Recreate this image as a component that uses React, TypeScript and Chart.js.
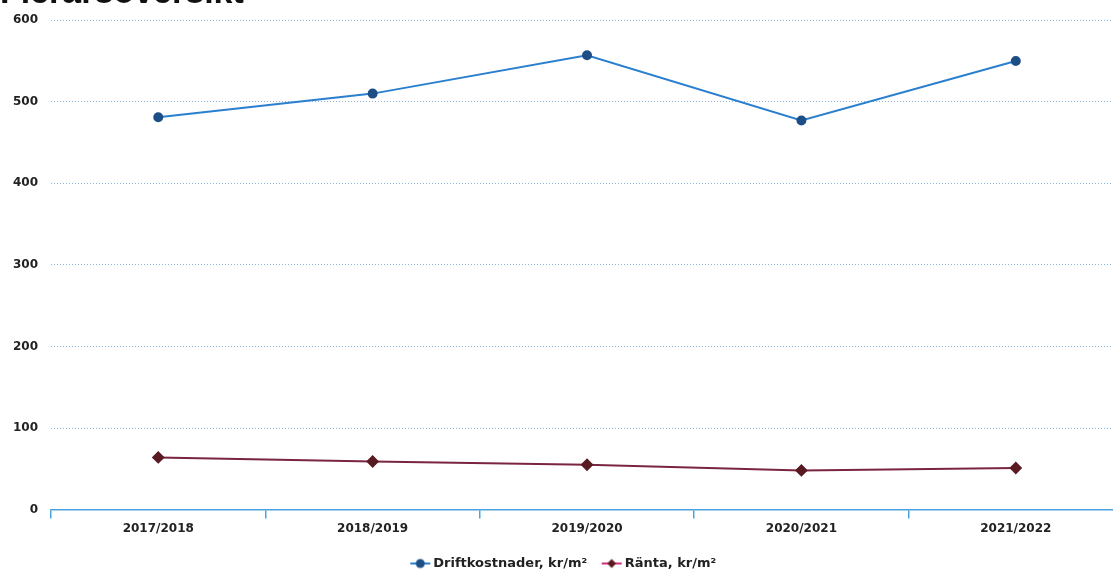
import React, { useEffect, useRef } from "react";
import { Chart, registerables } from "chart.js";

Chart.register(...registerables);

const categories = ["2017/2018", "2018/2019", "2019/2020", "2020/2021", "2021/2022"];
const driftkostnader = [481, 510, 557, 477, 550];
const ranta = [64, 59, 55, 48, 51];
const yTicks = [0, 100, 200, 300, 400, 500, 600];
const seriesNames = ["Driftkostnader, kr/m²", "Ränta, kr/m²"];

const FONT = "'DejaVu Sans', Verdana, sans-serif";
const W = 1130;
const H = 580;

function makeIcon(lineColor: string, markColor: string, diamond: boolean) {
  const c = document.createElement("canvas");
  c.width = 22;
  c.height = 12;
  const ctx = c.getContext("2d")!;
  ctx.strokeStyle = lineColor;
  ctx.lineWidth = 2;
  ctx.beginPath();
  ctx.moveTo(1, 6);
  ctx.lineTo(21, 6);
  ctx.stroke();
  ctx.fillStyle = markColor;
  ctx.beginPath();
  if (diamond) {
    ctx.moveTo(11, 1.5);
    ctx.lineTo(15.5, 6);
    ctx.lineTo(11, 10.5);
    ctx.lineTo(6.5, 6);
    ctx.closePath();
  } else {
    ctx.arc(11, 6, 4.5, 0, Math.PI * 2);
  }
  ctx.fill();
  return c;
}

export default function App() {
  const ref = useRef<HTMLCanvasElement | null>(null);

  useEffect(() => {
    document.body.style.margin = "0";
    document.body.style.overflow = "hidden";
    const icons = [
      makeIcon("#2a7fcf", "#1d4f86", false),
      makeIcon("#d0307a", "#5a1a22", true),
    ];
    const chart = new Chart(ref.current!, {
      type: "line",
      data: {
        labels: categories,
        datasets: [
          {
            label: seriesNames[0],
            data: driftkostnader,
            borderColor: "#2a7fcf",
            backgroundColor: "#1d4f86",
            pointBackgroundColor: "#1d4f86",
            pointBorderColor: "#1d4f86",
            pointRadius: 4,
            borderWidth: 2,
            tension: 0,
          },
          {
            label: seriesNames[1],
            data: ranta,
            borderColor: "#7a2440",
            backgroundColor: "#5a1a22",
            pointBackgroundColor: "#5a1a22",
            pointBorderColor: "#5a1a22",
            pointStyle: "rectRot",
            pointRadius: 5,
            borderWidth: 2,
            tension: 0,
          },
        ],
      },
      options: {
        animation: false,
        responsive: false,
        layout: { padding: { top: 12, left: 0, right: 0, bottom: 0 } },
        plugins: {
          tooltip: { enabled: false },
          legend: {
            position: "bottom",
            labels: {
              usePointStyle: true,
              boxWidth: 22,
              boxHeight: 12,
              padding: 18,
              color: "#222",
              font: { family: FONT, size: 13, weight: "bold" },
              generateLabels: (ch: any) =>
                ch.data.datasets.map((ds: any, i: number) => ({
                  text: ds.label,
                  pointStyle: icons[i],
                  fillStyle: ds.borderColor,
                  strokeStyle: ds.borderColor,
                  lineWidth: 0,
                  hidden: false,
                  datasetIndex: i,
                  fontColor: "#222",
                })),
            },
          },
        },
        scales: {
          x: {
            offset: true,
            grid: {
              offset: true,
              drawOnChartArea: false,
              drawTicks: true,
              tickLength: 9,
              color: "#4aa3e0",
              lineWidth: 1.5,
            },
            border: { display: true, color: "#4aa3e0", width: 1.5 },
            ticks: {
              color: "#222",
              padding: 3,
              font: { family: FONT, size: 12, weight: "bold" },
            },
          },
          y: {
            min: 0,
            max: 600,
            afterBuildTicks: (axis: any) => {
              axis.ticks = yTicks.map((v) => ({ value: v }));
            },
            grid: {
              drawTicks: false,
              color: "#8db6e0",
              lineWidth: 1,
            },
            border: { display: false, dash: [1, 2] },
            ticks: {
              color: "#222",
              padding: 13,
              font: { family: FONT, size: 12, weight: "bold" },
            },
          },
        },
      },
    });
    return () => chart.destroy();
  }, []);

  return (
    <div style={{ position: "relative", width: W, height: 574, overflow: "hidden", background: "#fff" }}>
      <div
        style={{
          position: "absolute",
          left: 0,
          top: -28,
          fontFamily: "'Liberation Sans', Arial, sans-serif",
          fontWeight: "bold",
          fontSize: 34,
          color: "#111",
          whiteSpace: "nowrap",
        }}
      >
        Flerårsöversikt
      </div>
      <canvas ref={ref} width={W} height={H} style={{ display: "block" }} />
    </div>
  );
}
